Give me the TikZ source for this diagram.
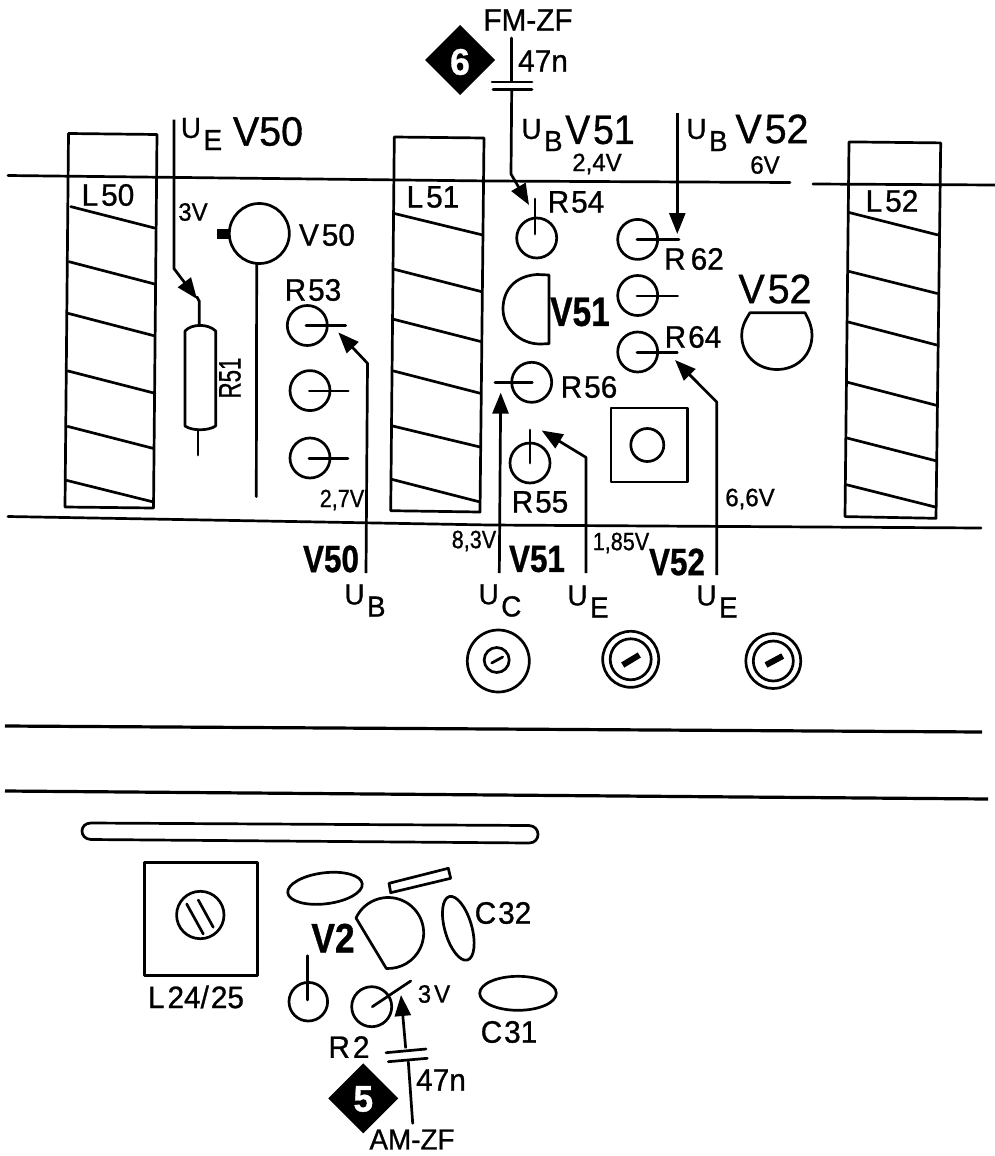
\documentclass[tikz,border=0pt]{standalone}
\usepackage{fontspec}
\setmainfont[FakeStretch=0.96,FakeBold=0.9]{Liberation Sans}
\usetikzlibrary{arrows.meta}
\newcommand\Usub[1]{U\kern2.5pt\raisebox{-0.42em}{#1}}
\tikzset{
  ln/.style={line width=2.7pt,line join=round,line cap=round,black},
  arrowline/.style={ln,line cap=butt,-{Triangle[length=21pt,width=16pt]}},
  base/.style={inner sep=0pt,outer sep=0pt,black},
  big/.style={base,font=\fontsize{41}{41}\selectfont},
  bigb/.style={base,font=\fontsize{41}{41}\selectfont\bfseries},
  bigc/.style={base,font=\fontsize{38}{38}\selectfont\bfseries},
  med/.style={base,font=\fontsize{31}{31}\selectfont},
  sm/.style={base,font=\fontsize{25}{25}\selectfont},
  sub/.style={base,font=\fontsize{29}{29}\selectfont},
  badge/.style={base,white,font=\fontsize{37}{37}\selectfont\bfseries},
}
\begin{document}
\begin{tikzpicture}[x=1pt,y=-1pt]
\useasboundingbox (0,0) rectangle (995,1156);
\fill[white] (0,0) rectangle (995,1156);
% board edges
\draw[ln] (8,175.5) -- (490,181) -- (790,182.5);
\draw[ln] (813,184) -- (995,185);
\draw[ln] (8,516.5) -- (490,525) -- (981,528);
\draw[line width=3.2pt] (5,726) -- (982,732);
\draw[line width=3.2pt] (5,791) -- (988,799);
% coils
\draw[ln] (68.5,133.5) -- (157,134.5) -- (153.5,508) -- (65,507) -- cycle;
\foreach \a/\b/\c/\d in {70.7/206.6/155.7/228.3,69/261.7/155/284.1,68.3/313.4/154.3/335.8,67.7/370.9/155/393.3,67.7/426.4/153.3/448.4,66.7/480.4/152.7/501.8}
  \draw[ln] (\a,\b) -- (\c,\d);
\draw[ln] (394.3,137) -- (484,138) -- (480,512) -- (390.7,510.7) -- cycle;
\foreach \a/\b/\c/\d in {394.3/213.5/482.3/234.9,394.3/269.3/481.7/291.7,393.7/319.3/481/341.6,393.3/370.9/480.3/393.3,392.7/426/480/447,392/479.4/479.3/501.8}
  \draw[ln] (\a,\b) -- (\c,\d);
\draw[ln] (849,141.9) -- (940.7,142.9) -- (936,518.3) -- (845,516.6) -- cycle;
\foreach \a/\b/\c/\d in {849/212.5/937.7/234.9,849/271.4/937/293.4,848.3/322/936.7/345,847.7/382.3/936.7/405.4,847/438/936/460.8,846/484.6/935.3/507}
  \draw[ln] (\a,\b) -- (\c,\d);
\node[med] (l50) at (108,195) {L\kern3pt50};
\node[med] (l51) at (433,197) {L\kern3pt51};
\node[med] (l52) at (892,201) {L\kern3pt52};
% V50 area
\draw[arrowline] (174,119.5) -- (174,268.6) -- (197,299);
\draw[ln] (197,297) -- (199.3,301.3) -- (199.3,324);
\draw[ln] (185,331) .. controls (192,323.5) and (208,323.5) .. (215.7,331) -- (215.7,426) .. controls (208,431) and (192,431) .. (185,426) -- cycle;
\draw[ln] (198,430) -- (198,455);
\draw[ln] (259.3,233.5) circle[radius=30pt];
\fill (216.7,229) rectangle (230,239);
\draw[ln] (256.7,264) -- (256.3,496.6);
\foreach \cx/\cy/\lx/\ly/\ex in {307.3/325.5/306/325.5/345.7,310/390.6/309.3/391/348.3,310/458/309/458.5/348}
{ \draw[ln] (\cx,\cy) circle[radius=20pt];
  \draw[ln] (\lx,\ly) -- (\ex,\ly); }
\draw[arrowline] (366,573) -- (367.5,363.3) -- (338.3,332.4);
\node[sub] (ue1) at (201.5,134) {\Usub{E}};
\node[big] (v50t) at (268,131.5) {V50};
\node[sm] (v3) at (193,212) {3V};
\node[med] (v50s) at (327,235) {V\kern3pt50};
\node[med] (r53) at (313,290) {R\kern2pt53};
\node[med,rotate=90] (r51) at (230,378) {\scalebox{.75}[1]{R51}};
\node[sm] (v27) at (342,500) {\scalebox{.9}[1]{2,7V}};
% feed V51
\draw[ln] (511.7,38) -- (511.7,81);
\draw[ln] (492,82) -- (532,82);
\draw[ln] (493,89.5) -- (532,89.5);
\draw[arrowline] (511.7,90) -- (511,174) -- (529,205);
\node[med] (fm) at (528,20) {FM-ZF};
\node[med] (c47a) at (543,61) {47n};
\fill (460,25) -- (495,60) -- (460,95) -- (425,60) -- cycle;
\node[badge] (d6) at (460,62) {6};
\node[sub] (ub1) at (542,135) {\Usub{B}};
\node[big] (v51t) at (600,130) {\scalebox{.95}[1]{V\kern3pt51}};
\node[sm] (v24) at (597,164) {2,4V};
\node[med] (r54) at (576,202) {R\kern2pt54};
\draw[ln] (536.7,238) circle[radius=20pt];
\draw[ln] (535,199) -- (535,234);
% V51 body
\draw[ln] (549,275) -- (537,274.5) .. controls (515,276) and (503,290) .. (503,309) .. controls (503,328) and (520,344) .. (540,344) -- (549,343.7) -- cycle;
\node[bigb] (v51m) at (580,312) {\scalebox{.85}[1]{V51}};
\draw[ln] (531.7,382.3) circle[radius=20pt];
\draw[ln] (495,382.3) -- (532.3,382.3);
\node[med] (r56) at (589,387) {R\kern2pt56};
\draw[ln] (530,463) circle[radius=20pt];
\draw[ln] (530,430) -- (530,463);
\node[med] (r55) at (540,502) {R\kern2pt55};
\draw[arrowline] (499.3,573) -- (500.7,392.6);
\draw[arrowline] (586,573) -- (586,457.4) -- (541.7,430.5);
% V52 area
\draw[arrowline] (677.3,112.6) -- (677.3,234);
\node[sub] (ub2) at (707,135) {\Usub{B}};
\node[big] (v52t) at (772,129) {V\kern3pt52};
\node[sm] (v6) at (765,165) {6V};
\foreach \cy/\ly/\ex in {239.4/239.4/679,295.5/296/677.7,352/352.5/677.3}
{ \draw[ln] (637.7,\cy) circle[radius=20pt];
  \draw[ln] (637,\ly) -- (\ex,\ly); }
\node[med] (r62) at (694,259) {R\kern5pt62};
\node[med] (r64) at (693,337) {R\kern2pt64};
\node[big] (v52m) at (775,289) {V\kern3pt52};
\draw[ln] (750,312.7) -- (805,312.7) .. controls (810,322) and (812,328) .. (812,335) .. controls (812,355) and (797,369.5) .. (777,369.5) .. controls (757,369.5) and (741.7,355) .. (741.7,335) .. controls (741.7,328) and (744,322) .. (750,312.7) -- cycle;
\draw[ln] (611,408) rectangle (687.3,482);
\draw[ln] (647.3,445) circle[radius=16.5pt];
\draw[arrowline] (716.7,575) -- (716.7,402) -- (675,360);
\node[sm] (v66) at (750,499) {6,6V};
% bottom labels
\node[sm] (v83) at (474,541) {\scalebox{.9}[1]{8,3V}};
\node[bigc] (v51b) at (537,559) {\scalebox{.86}[1]{V51}};
\node[sm] (v185) at (621,543) {\scalebox{.9}[1]{1,85V}};
\node[bigc] (v52b) at (677,562) {\scalebox{.86}[1]{V52}};
\node[bigc] (v50b) at (331,559) {\scalebox{.86}[1]{V50}};
\node[sub] (ub3) at (365,600.5) {\Usub{B}};
\node[sub] (uc) at (500,600.5) {\Usub{C}};
\node[sub] (ue2) at (588,601.5) {\Usub{E}};
\node[sub] (ue3) at (717,601.5) {\Usub{E}};
% trimmers
\draw[ln] (498.3,661) circle[radius=31pt];
\draw[ln] (496.7,660) circle[radius=12.5pt];
\draw[ln] (491.7,663) -- (502.7,657);
\draw[ln] (630.7,659.3) circle[radius=28pt];
\draw[ln] (630.7,659.3) circle[radius=20.5pt];
\draw[line width=6pt] (622.7,665) -- (639.3,655);
\draw[ln] (773.3,661) circle[radius=27.5pt];
\draw[ln] (773.3,661) circle[radius=20pt];
\draw[line width=6pt] (766,665) -- (782.7,656);
% lower board
\draw[ln] (91,823) -- (529,825.5) .. controls (541,826) and (541,843) .. (529,843) -- (91,839.5) .. controls (79,839) and (79,823) .. (91,823) -- cycle;
\draw[ln] (144.3,862.7) rectangle (257.7,975.7);
\draw[ln] (200.3,915) circle[radius=23.7pt];
\draw[ln] (186.7,904) -- (203.3,934);
\draw[ln] (198.3,900) -- (213.3,927.3);
\node[med] (l24) at (196,997) {L\kern3pt24/\kern2pt25};
\draw[ln] (325,888.3) ellipse[x radius=37.5pt,y radius=15.5pt,rotate=7];
\draw[ln] (389,883.3) -- (448.3,868.3) -- (450.7,878.3) -- (390.7,892.7) -- cycle;
\draw[ln] (356,918) arc[start angle=155,end angle=-93,radius=35.5pt] -- cycle;
\node[bigb] (v2) at (333,938) {\scalebox{.9}[1]{V2}};
\draw[ln] (458.3,928.3) ellipse[x radius=33pt,y radius=13.5pt,rotate=-74];
\node[med] (c32) at (503,913) {C\kern2pt32};
\draw[ln] (518,993.3) ellipse[x radius=38.3pt,y radius=17pt];
\node[med] (c31) at (509,1032) {C\kern2pt31};
\draw[ln] (308.3,1001.7) circle[radius=19.3pt];
\draw[ln] (307.7,955.7) -- (307.7,1000);
\draw[ln] (371.7,1006.7) circle[radius=20pt];
\draw[ln] (372.3,1006.7) -- (410.7,981);
\node[sm] (v3b) at (434,994) {3\kern3pt V};
\draw[arrowline] (405.7,1048.3) -- (401,995);
\draw[ln] (386,1052.7) -- (426,1049);
\draw[ln] (388.3,1061.7) -- (427.3,1058.3);
\draw[ln] (408.3,1061.7) -- (412.7,1123.3);
\node[med] (c47b) at (441,1080) {47n};
\fill (363.3,1063.3) -- (398.3,1098.3) -- (363.3,1133.3) -- (328.3,1098.3) -- cycle;
\node[badge] (d5) at (363.3,1099) {5};
\node[med] (r2) at (349,1047) {R\kern3pt2};
\node[base,font=\fontsize{29}{29}\selectfont] (am) at (412,1139.5) {AM-ZF};
\end{tikzpicture}
\end{document}
